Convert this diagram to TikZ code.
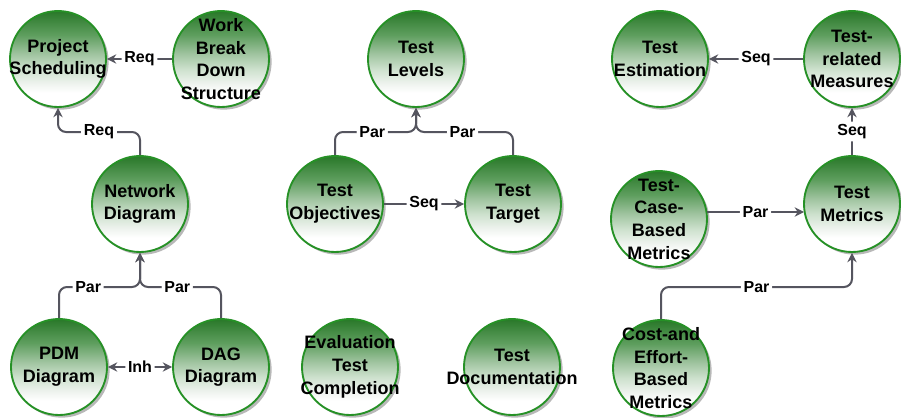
\documentclass[tikz,border=0pt]{standalone}
\usepackage{fontspec}
\setmainfont{Liberation Sans}
\usetikzlibrary{arrows.meta,shadows,calc}
\definecolor{bordergreen}{RGB}{38,145,38}
\definecolor{conngray}{RGB}{85,85,95}
\pgfdeclareverticalshading{bubshade}{100bp}{rgb(0bp)=(1,1,1); rgb(32.5bp)=(1,1,1); rgb(37.5bp)=(0.93,0.95,0.93); rgb(45bp)=(0.80,0.88,0.80); rgb(52.5bp)=(0.63,0.77,0.63); rgb(62.5bp)=(0.37,0.62,0.37); rgb(75bp)=(0.16,0.47,0.16); rgb(100bp)=(0.16,0.47,0.16)}
\begin{document}
\begin{tikzpicture}[x=0.75pt,y=-0.75pt,
  bub/.style={circle, minimum size=72pt, inner sep=0pt, draw=bordergreen, line width=1.4pt,
    shading=bubshade,
    drop shadow={shadow xshift=2pt, shadow yshift=-2pt, fill=black!55, opacity=0.5}},
  txt/.style={font=\bfseries\fontsize{13.5}{17}\selectfont, align=center, inner sep=0pt},
  lbl/.style={font=\bfseries\fontsize{12}{13}\selectfont, fill=white, inner sep=2pt},
  conn/.style={draw=conngray, line width=1.5pt, rounded corners=6pt, -{Stealth[length=7pt,width=7pt]}},
  both/.style={{Stealth[length=7pt,width=7pt]}-{Stealth[length=7pt,width=7pt]}}
]
\useasboundingbox (0,0) rectangle (901,418);
\fill[white] (0,0) rectangle (901,418);

% circles
\node[bub] (ps)  at (58,59)   {};
\node[bub] (wbs) at (221,59)  {};
\node[bub] (nd)  at (140,204) {};
\node[bub] (pdm) at (59,367)  {};
\node[bub] (dag) at (221,367) {};
\node[bub] (tl)  at (416,59)  {};
\node[bub] (to)  at (335,204) {};
\node[bub] (tt)  at (513,204) {};
\node[bub] (etc) at (350,367) {};
\node[bub] (td)  at (512,367) {};
\node[bub] (te)  at (660,59)  {};
\node[bub] (trm) at (852,59)  {};
\node[bub] (tcb) at (659,219) {};
\node[bub] (tm)  at (852,204) {};
\node[bub] (cem) at (661,368) {};

% texts
\node[txt] (ps-t)  at (ps)  {Project\\Scheduling};
\node[txt] (wbs-t) at (wbs) {Work\\Break\\Down\\Structure};
\node[txt] (nd-t)  at (nd)  {Network\\Diagram};
\node[txt] (pdm-t) at (pdm) {PDM\\Diagram};
\node[txt] (dag-t) at (dag) {DAG\\Diagram};
\node[txt] (tl-t)  at (tl)  {Test\\Levels};
\node[txt] (to-t)  at (to)  {Test\\Objectives};
\node[txt] (tt-t)  at (tt)  {Test\\Target};
\node[txt] (etc-t) at (etc) {Evaluation\\Test\\Completion};
\node[txt] (td-t)  at (td)  {Test\\Documentation};
\node[txt] (te-t)  at (te)  {Test\\Estimation};
\node[txt] (trm-t) at (trm) {Test-\\related\\Measures};
\node[txt] (tcb-t) at (tcb) {Test-\\Case-\\Based\\Metrics};
\node[txt] (tm-t)  at (tm)  {Test\\Metrics};
\node[txt] (cem-t) at (cem) {Cost-and\\Effort-\\Based\\Metrics};

% junction coordinates and off-centre ends
\coordinate (k1) at (58,132);
\coordinate (k2) at (140,287);
\coordinate (k3) at (416,132);
\coordinate (k4) at (852,287);
\coordinate (tcb-e) at ($(tcb.center)+(48,-7)$);
\coordinate (tm-w)  at ($(tm.center)+(-48,8)$);

% connectors
\draw[conn] (wbs.west) -- node[lbl]{Req} (ps.east);
\draw[conn] (nd.north) |- node[lbl,pos=0.75]{Req} (k1) -- (ps.south);
\draw[conn] (pdm.north) |- node[lbl,pos=0.68]{Par} (k2) -- (nd.south);
\draw[conn] (dag.north) |- node[lbl,pos=0.77]{Par} (k2) -- (nd.south);
\draw[conn,both] (pdm.east) -- node[lbl]{Inh} (dag.west);

\draw[conn] (to.north) |- node[lbl,pos=0.73]{Par} (k3) -- (tl.south);
\draw[conn] (tt.north) |- node[lbl,pos=0.76]{Par} (k3) -- (tl.south);
\draw[conn] (to.east) -- node[lbl]{Seq} (tt.west);

\draw[conn] (trm.west) -- node[lbl]{Seq} (te.east);
\draw[conn] (tm.north) -- node[lbl]{Seq} (trm.south);
\draw[conn] (tcb-e) -- node[lbl]{Par} (tm-w);
\draw[conn] (cem.north) |- node[lbl,pos=0.75]{Par} (k4) -- (tm.south);
\end{tikzpicture}
\end{document}
